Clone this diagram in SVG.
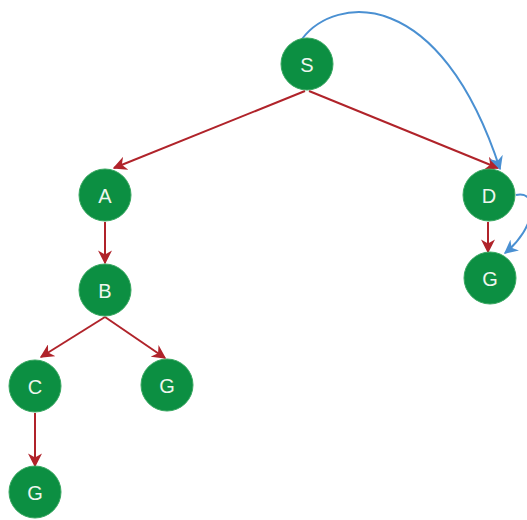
<svg xmlns="http://www.w3.org/2000/svg" width="527" height="520" viewBox="0 0 527 520">
<defs>
<style>
.node circle{fill:#0c8f42;stroke:#3aa862;stroke-width:1}
.node text{fill:#eef6ee;font-family:"Liberation Sans",Arial,sans-serif;font-size:20px;text-anchor:middle;dominant-baseline:central}
.tree{stroke:#b0232a;stroke-width:2;fill:none;marker-end:url(#ar)}
.back{stroke:#4a90d2;stroke-width:2;fill:none;marker-end:url(#ab)}
</style>
<marker id="ar" viewBox="0 0 10 10" refX="9" refY="5" markerWidth="7" markerHeight="7" orient="auto" markerUnits="strokeWidth">
<path d="M0,0 L10,5 L0,10 L3,5 z" fill="#b0232a"/>
</marker>
<marker id="ab" viewBox="0 0 10 10" refX="9" refY="5" markerWidth="7" markerHeight="7" orient="auto" markerUnits="strokeWidth">
<path d="M0,0 L10,5 L0,10 L3,5 z" fill="#4a90d2"/>
</marker>
</defs>
<rect width="527" height="520" fill="#ffffff"/>
<g id="connectors">
<path class="tree" d="M305,91 L114,168"/>
<path class="tree" d="M309,91 L498,168"/>
<path class="tree" d="M105,222 L105,263"/>
<path class="tree" d="M105,317 L41,357"/>
<path class="tree" d="M105,317 L165,358"/>
<path class="tree" d="M35,413 L35,466"/>
<path class="tree" d="M488,222 L488,252"/>
<path class="back" d="M302,39 C335,-5 440,-15 500,169"/>
<path class="back" d="M516,195 C540,190 536,228 505,253"/>
</g>
<g id="node-S" class="node"><circle cx="307" cy="64" r="26"/><text x="307" y="65">S</text></g>
<g id="node-A" class="node"><circle cx="105" cy="195" r="26"/><text x="105" y="196">A</text></g>
<g id="node-D" class="node"><circle cx="489" cy="195" r="26"/><text x="489" y="196">D</text></g>
<g id="node-B" class="node"><circle cx="105" cy="290" r="26"/><text x="105" y="291">B</text></g>
<g id="node-G-D" class="node"><circle cx="490" cy="278" r="26"/><text x="490" y="279">G</text></g>
<g id="node-C" class="node"><circle cx="35" cy="386" r="26"/><text x="35" y="387">C</text></g>
<g id="node-G-B" class="node"><circle cx="167" cy="385" r="26"/><text x="167" y="386">G</text></g>
<g id="node-G-C" class="node"><circle cx="35" cy="492" r="26"/><text x="35" y="493">G</text></g>
</svg>
